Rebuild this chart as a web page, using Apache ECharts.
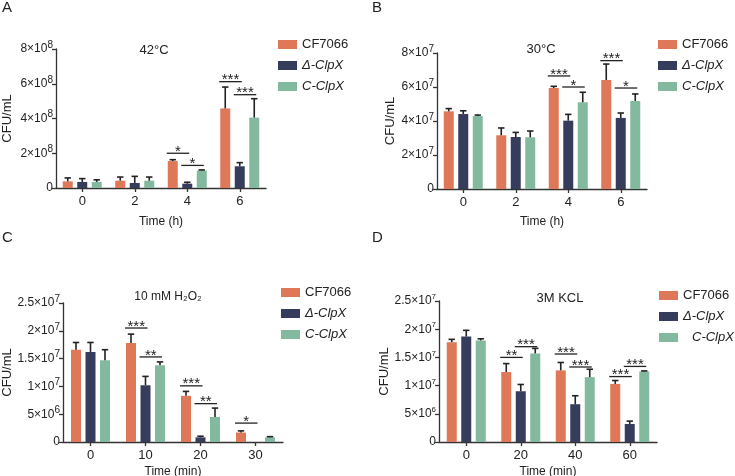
<!DOCTYPE html>
<html>
<head>
<meta charset="utf-8">
<script src="https://cdn.jsdelivr.net/npm/echarts@6/dist/echarts.min.js"></script>
<style>
html, body { margin: 0; padding: 0; background: #fff; }
#main { width: 735px; height: 476px; }
</style>
</head>
<body>
<div id="main"></div>
<script>
// ---- data ----
var strainNames = ['CF7066', 'Δ-ClpX', 'C-ClpX'];

// A: 42°C, unit 1e8
var timeA = ['0', '2', '4', '6'];
var meanA_cf = [0.38, 0.42, 1.55, 4.58];
var meanA_del = [0.35, 0.29, 0.25, 1.25];
var meanA_c = [0.35, 0.42, 1.00, 4.05];
var sdA_cf = [0.20, 0.21, 0.08, 1.23];
var sdA_del = [0.19, 0.38, 0.08, 0.21];
var sdA_c = [0.12, 0.21, 0.04, 1.09];
var yTicksA = ['0', '2×10^8', '4×10^8', '6×10^8', '8×10^8'];
// [category, height, from bar, to bar], labels below
var sigA = [[2, 2.00, 0, 1], [2, 1.30, 1, 2], [3, 6.12, 0, 1], [3, 5.37, 1, 2]];
var sigLabelA = ['*', '*', '***', '***'];

// B: 30°C, unit 1e7
var timeB = ['0', '2', '4', '6'];
var meanB_cf = [4.57, 3.16, 5.94, 6.41];
var meanB_del = [4.41, 3.06, 4.02, 4.18];
var meanB_c = [4.29, 3.04, 5.10, 5.18];
var sdB_cf = [0.16, 0.43, 0.10, 0.94];
var sdB_del = [0.19, 0.27, 0.37, 0.29];
var sdB_c = [0.06, 0.37, 0.59, 0.41];
var yTicksB = ['0', '2×10^7', '4×10^7', '6×10^7', '8×10^7'];
var sigB = [[2, 6.65, 0, 1], [2, 6.00, 1, 2], [3, 7.55, 0, 1], [3, 5.94, 1, 2]];
var sigLabelB = ['***', '*', '***', '*'];

// C: 10 mM H2O2, unit 1e7
var timeC = ['0', '10', '20', '30'];
var meanC_cf = [1.66, 1.78, 0.83, 0.17];
var meanC_del = [1.62, 1.02, 0.084, 0];
var meanC_c = [1.47, 1.38, 0.45, 0.084];
var sdC_cf = [0.13, 0.16, 0.08, 0.03];
var sdC_del = [0.17, 0.16, 0.02, 0];
var sdC_c = [0.19, 0.06, 0.16, 0.012];
var yTicksC = ['0', '5×10^6', '1×10^7', '1.5×10^7', '2×10^7', '2.5×10^7'];
var sigC = [[1, 2.05, 0, 1], [1, 1.53, 1, 2], [2, 1.01, 0, 1], [2, 0.69, 1, 2], [3, 0.34, 0, 1]];
var sigLabelC = ['***', '**', '***', '**', '*'];

// D: 3M KCL, unit 1e7
var timeD = ['0', '20', '40', '60'];
var meanD_cf = [1.77, 1.24, 1.27, 1.03];
var meanD_del = [1.87, 0.90, 0.67, 0.32];
var meanD_c = [1.80, 1.57, 1.15, 1.25];
var sdD_cf = [0.05, 0.15, 0.14, 0.06];
var sdD_del = [0.11, 0.12, 0.15, 0.05];
var sdD_c = [0.03, 0.09, 0.14, 0.01];
var yTicksD = ['0', '5×10^6', '1×10^7', '1.5×10^7', '2×10^7', '2.5×10^7'];
var sigD = [[1, 1.50, 0, 1], [1, 1.69, 1, 2], [2, 1.56, 0, 1], [2, 1.33, 1, 2], [3, 1.16, 0, 1], [3, 1.34, 1, 2]];
var sigLabelD = ['**', '***', '***', '***', '***', '***'];

// ---- styling ----
var FONT = '"Liberation Sans", Arial, sans-serif';
var colors = ['#df7859', '#363c5b', '#83b99f'];
var BAR_W = 10;
var OFFS = [-14.5, 0, 14.5]; // bar centre offsets for barWidth 10, barGap 45%
var INK = '#222';

var panels = [
    {cats: timeA, means: [meanA_cf, meanA_del, meanA_c], sds: [sdA_cf, sdA_del, sdA_c],
     max: 8, interval: 2, ticks: yTicksA, sig: sigA, sigLabel: sigLabelA, xname: 'Time (h)',
     grid: {left: 56, top: 49, width: 210, height: 139}, nameGapY: 42, nameGapX: 28, expSize: 10},
    {cats: timeB, means: [meanB_cf, meanB_del, meanB_c], sds: [sdB_cf, sdB_del, sdB_c],
     max: 8, interval: 2, ticks: yTicksB, sig: sigB, sigLabel: sigLabelB, xname: 'Time (h)',
     grid: {left: 437, top: 53, width: 210, height: 136}, nameGapY: 40, nameGapX: 27, expSize: 10},
    {cats: timeC, means: [meanC_cf, meanC_del, meanC_c], sds: [sdC_cf, sdC_del, sdC_c],
     max: 2.5, interval: 0.5, ticks: yTicksC, sig: sigC, sigLabel: sigLabelC, xname: 'Time (min)',
     grid: {left: 63, top: 303, width: 220, height: 139}, nameGapY: 47, nameGapX: 24, expSize: 10},
    {cats: timeD, means: [meanD_cf, meanD_del, meanD_c], sds: [sdD_cf, sdD_del, sdD_c],
     max: 2.5, interval: 0.5, ticks: yTicksD, sig: sigD, sigLabel: sigLabelD, xname: 'Time (min)',
     grid: {left: 439, top: 301, width: 218, height: 141}, nameGapY: 47, nameGapX: 24, expSize: 8}
];

var titles = [
    {text: 'A', left: 2, top: 0, size: 15},
    {text: 'B', left: 372, top: 0, size: 15},
    {text: 'C', left: 2, top: 230, size: 15},
    {text: 'D', left: 372, top: 230, size: 15},
    {text: '42°C', left: 154, top: 50, size: 13, center: true},
    {text: '30°C', left: 541, top: 49, size: 13, center: true},
    {text: '10 mM H₂O₂', left: 168, top: 297, size: 12, center: true},
    {text: '3M KCL', left: 560, top: 298, size: 13, center: true}
];
var legendPos = [[278, 38], [658, 38], [281, 286], [659, 289]];

function tickFormatter(ticks) {
    return function (v, i) {
        var t = ticks[i];
        if (t === undefined) return '';
        var parts = t.split('^');
        if (parts.length < 2) return '{m|' + t + '}';
        return '{m|' + parts[0] + '}{e|' + parts[1] + '}';
    };
}

var option = {
    animation: false,
    backgroundColor: '#fff',
    textStyle: {fontFamily: FONT},
    grid: [], xAxis: [], yAxis: [], series: [], legend: [], title: []
};

titles.forEach(function (t) {
    option.title.push({
        text: t.text, left: t.left, top: t.top, padding: 0,
        textAlign: t.center ? 'center' : 'left',
        textVerticalAlign: t.center ? 'middle' : 'top',
        textStyle: {fontSize: t.size, fontWeight: 'normal', color: INK, fontFamily: FONT}
    });
});

legendPos.forEach(function (p, k) {
    option.legend.push({
        orient: 'vertical', left: p[0], top: p[1], padding: 0,
        icon: 'rect', itemWidth: 19, itemHeight: 9, itemGap: 8,
        selectedMode: false,
        textStyle: {fontSize: 13, color: INK, fontFamily: FONT},
        data: [
            {name: strainNames[0]},
            {name: strainNames[1], textStyle: {fontStyle: 'italic'}},
            {name: strainNames[2], textStyle: {fontStyle: 'italic', padding: k === 3 ? [0, 0, 0, 9] : 0}}
        ]
    });
});

panels.forEach(function (pn, i) {
    option.grid.push(Object.assign({outerBoundsMode: 'none'}, pn.grid));
    option.xAxis.push({
        type: 'category', gridIndex: i, data: pn.cats,
        name: pn.xname, nameLocation: 'middle', nameGap: pn.nameGapX,
        nameTextStyle: {fontSize: 12, color: INK},
        axisLine: {lineStyle: {color: '#333', width: 1.3}},
        axisTick: {show: true, alignWithLabel: true, length: 4, lineStyle: {color: '#333', width: 1.3}},
        axisLabel: {fontSize: 13, color: INK, margin: 7}
    });
    option.yAxis.push({
        type: 'value', gridIndex: i, min: 0, max: pn.max, interval: pn.interval,
        name: 'CFU/mL', nameLocation: 'middle', nameGap: pn.nameGapY, nameRotate: 90,
        nameTextStyle: {fontSize: 13, color: INK},
        splitLine: {show: false},
        axisLine: {show: true, lineStyle: {color: '#333', width: 1.3}},
        axisTick: {show: true, length: 4, lineStyle: {color: '#333', width: 1.3}},
        axisLabel: {
            margin: 3, color: INK,
            formatter: tickFormatter(pn.ticks),
            rich: {
                m: {fontSize: 12, color: INK, fontFamily: FONT},
                e: {fontSize: pn.expSize, color: INK, fontFamily: FONT, padding: [0, 0, 8, 0]}
            }
        }
    });

    pn.means.forEach(function (vals, s) {
        option.series.push({
            type: 'bar', name: strainNames[s], xAxisIndex: i, yAxisIndex: i,
            data: vals, barWidth: BAR_W, barGap: '45%', silent: true,
            itemStyle: {color: colors[s]}
        });
    });

    // error bars (upper SD only)
    var errData = [];
    pn.means.forEach(function (vals, s) {
        vals.forEach(function (m, c) {
            errData.push([c, m, pn.sds[s][c], s]);
        });
    });
    option.series.push({
        type: 'custom', xAxisIndex: i, yAxisIndex: i, silent: true, z: 5,
        data: errData,
        renderItem: function (params, api) {
            var c = api.value(0), m = api.value(1), sd = api.value(2), s = api.value(3);
            if (!sd) return null;
            var p0 = api.coord([c, m]), p1 = api.coord([c, m + sd]);
            var x = p0[0] + OFFS[s];
            var st = {stroke: INK, lineWidth: 1.6};
            return {type: 'group', children: [
                {type: 'line', shape: {x1: x, y1: p0[1], x2: x, y2: p1[1]}, style: st},
                {type: 'line', shape: {x1: x - 3.2, y1: p1[1], x2: x + 3.2, y2: p1[1]}, style: st}
            ]};
        }
    });

    // significance brackets
    var labels = pn.sigLabel;
    option.series.push({
        type: 'custom', xAxisIndex: i, yAxisIndex: i, silent: true, z: 6,
        data: pn.sig,
        renderItem: function (params, api) {
            var c = api.value(0), h = api.value(1), a = api.value(2), b = api.value(3);
            var p = api.coord([c, h]);
            var x1 = p[0] + OFFS[a] - 6, x2 = p[0] + OFFS[b] + 2;
            return {type: 'group', children: [
                {type: 'line', shape: {x1: x1, y1: p[1], x2: x2, y2: p[1]},
                 style: {stroke: INK, lineWidth: 1.3}},
                {type: 'text', x: (x1 + x2) / 2, y: p[1] + 6,
                 style: {text: labels[params.dataIndex], fill: INK, fontSize: 15, fontFamily: FONT,
                         align: 'center', verticalAlign: 'bottom'}}
            ]};
        }
    });
});

var myChart = echarts.init(document.getElementById('main'));
myChart.setOption(option);
</script>
</body>
</html>
